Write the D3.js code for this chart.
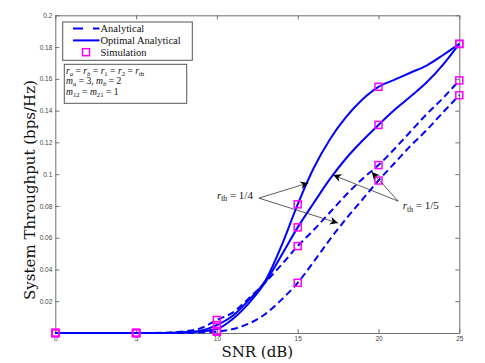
<!DOCTYPE html>
<html>
<head>
<meta charset="utf-8">
<script src="https://cdn.jsdelivr.net/npm/d3@7"></script>
<style>
  html, body { margin: 0; padding: 0; background: #fff; }
</style>
</head>
<body>
<div id="chart"></div>
<script>
// SNR grid (dB)
const snr = d3.range(0, 26);

// curves
const optTh4 = [0, 0, 0, 0, 0, 0, 0, 0, 0.0005, 0.0015, 0.005, 0.011, 0.021, 0.033, 0.055, 0.081, 0.104, 0.122, 0.136, 0.147, 0.155, 0.1595, 0.164, 0.1685, 0.175, 0.182];
const optTh5 = [0, 0, 0, 0, 0, 0, 0, 0, 0.0003, 0.001, 0.0025, 0.009, 0.019, 0.032, 0.049, 0.0665, 0.082, 0.097, 0.11, 0.121, 0.131, 0.1405, 0.149, 0.158, 0.169, 0.182];
const anaUpper = [0, 0, 0, 0, 0, 0, 0, 0.0003, 0.001, 0.003, 0.0082, 0.013, 0.022, 0.032, 0.043, 0.0547, 0.065, 0.076, 0.087, 0.097, 0.1057, 0.116, 0.127, 0.138, 0.148, 0.159];
const anaLower = [0, 0, 0, 0, 0, 0, 0, 0, 0, 0.0003, 0.0008, 0.0025, 0.006, 0.012, 0.021, 0.0316, 0.045, 0.059, 0.072, 0.084, 0.096, 0.107, 0.118, 0.128, 0.139, 0.1497];

// simulation points
const simSnr = [0, 5, 10, 15, 20, 25];
const simOptTh4 = [0, 0, 0.005, 0.081, 0.155, 0.182];
const simOptTh5 = [0, 0, 0.0014, 0.0665, 0.131, 0.182];
const simAnaUpper = [0, 0, 0.0082, 0.0547, 0.1057, 0.159];
const simAnaLower = [0, 0, 0.0008, 0.0316, 0.096, 0.1497];

const xTicks = [0, 5, 10, 15, 20, 25];
const yTicks = [0, 0.02, 0.04, 0.06, 0.08, 0.1, 0.12, 0.14, 0.16, 0.18, 0.2];

// annotation arrows (data coords): label origin -> targets
const notes = [
  { label: "1/4", text: [10.0, 0.0845], from: [12.6, 0.0849], to: [[15.66, 0.0945], [17.49, 0.0692]] },
  { label: "1/5", text: [21.5, 0.0778], from: [21.22, 0.083], to: [[17.2, 0.0994], [19.58, 0.1014]] }
];

const width = 485, height = 363;
const m = { left: 55.3, right: 485 - 459.3, top: 15.3, bottom: 363 - 333 };
const axisColor = "#707070";
const serif = "'Liberation Serif', serif";

const svg = d3.select("#chart").append("svg")
  .attr("width", width)
  .attr("height", height)
  .style("font-family", serif);

const x = d3.scaleLinear().domain([0, 25]).range([m.left, width - m.right]);
const y = d3.scaleLinear().domain([0, 0.2]).range([height - m.bottom, m.top]);

const fmt = d => d === 0 ? "0" : String(+d.toFixed(2));

function styleAxis(g) {
  g.select(".domain").attr("stroke", axisColor);
  g.selectAll(".tick line").attr("stroke", axisColor);
  g.selectAll(".tick text").attr("fill", "#444").style("font-family", "'Liberation Sans', Arial, sans-serif").style("font-size", "6.5px");
}

svg.append("g")
  .attr("transform", `translate(0,${height - m.bottom})`)
  .call(d3.axisBottom(x).tickValues(xTicks).tickSize(-4).tickPadding(3).tickSizeOuter(0).tickFormat(fmt))
  .call(styleAxis);

svg.append("g")
  .attr("transform", `translate(${m.left},0)`)
  .call(d3.axisLeft(y).tickValues(yTicks).tickSize(-4).tickPadding(3).tickSizeOuter(0).tickFormat(d => d === 0 ? "" : fmt(d)))
  .call(styleAxis);

svg.append("g")
  .attr("transform", `translate(0,${m.top})`)
  .call(d3.axisTop(x).tickValues(xTicks).tickSize(-4).tickSizeOuter(0).tickFormat(""))
  .call(styleAxis);

svg.append("g")
  .attr("transform", `translate(${width - m.right},0)`)
  .call(d3.axisRight(y).tickValues(yTicks).tickSize(-4).tickSizeOuter(0).tickFormat(""))
  .call(styleAxis);

// curves
const line = d3.line()
  .x((d, i) => x(snr[i]))
  .y(d => y(d))
  .curve(d3.curveMonotoneX);

const curves = [
  { v: anaUpper, dash: "7,4" },
  { v: anaLower, dash: "7,4" },
  { v: optTh5, dash: null },
  { v: optTh4, dash: null }
];

svg.append("g").selectAll("path")
  .data(curves)
  .join("path")
  .attr("d", d => line(d.v))
  .attr("fill", "none")
  .attr("stroke", "#0000ff")
  .attr("stroke-width", 2)
  .attr("stroke-dasharray", d => d.dash);

// simulation markers
const sims = [simOptTh4, simOptTh5, simAnaUpper, simAnaLower];
const ms = 7;
svg.append("g").selectAll("g")
  .data(sims)
  .join("g")
  .selectAll("rect")
  .data(d => d.map((v, i) => [simSnr[i], v]))
  .join("rect")
  .attr("x", d => x(d[0]) - ms / 2)
  .attr("y", d => y(d[1]) - ms / 2)
  .attr("width", ms)
  .attr("height", ms)
  .attr("fill", "none")
  .attr("stroke", "#ff00ff")
  .attr("stroke-width", 1.5);

// math text helper: segments [text, italic, sub]
function mathText(sel, px, py, segs, size) {
  const t = sel.append("text")
    .attr("x", px).attr("y", py)
    .style("font-size", size + "px")
    .attr("fill", "#111");
  const drop = size * 0.2;
  let low = false;
  segs.forEach(([s, it, sub]) => {
    const ts = t.append("tspan").text(s);
    if (it) ts.style("font-style", "italic");
    if (sub) {
      ts.style("font-size", (size * 0.7) + "px");
      if (!low) ts.attr("dy", drop);
      low = true;
    } else if (low) {
      ts.attr("dy", -drop);
      low = false;
    }
  });
  return t;
}

// arrowhead
svg.append("defs").append("marker")
  .attr("id", "arr")
  .attr("viewBox", "0 0 10 10")
  .attr("refX", 10).attr("refY", 5)
  .attr("markerWidth", 10).attr("markerHeight", 8)
  .attr("markerUnits", "userSpaceOnUse")
  .attr("orient", "auto")
  .append("path")
  .attr("d", "M0,0 L10,5 L0,10 L3,5 Z")
  .attr("fill", "#000");

notes.forEach(n => {
  n.to.forEach(t => {
    svg.append("line")
      .attr("x1", x(n.from[0])).attr("y1", y(n.from[1]))
      .attr("x2", x(t[0])).attr("y2", y(t[1]))
      .attr("stroke", "#333")
      .attr("stroke-width", 0.8)
      .attr("marker-end", "url(#arr)");
  });
  mathText(svg, x(n.text[0]), y(n.text[1]),
    [["r", true], ["th", false, true], [" = " + n.label, false]], 11);
});

// legend
const lg = svg.append("g");
lg.append("rect")
  .attr("x", 62.7).attr("y", 22).attr("width", 129.6).attr("height", 38.3)
  .attr("fill", "#fff").attr("stroke", "#555").attr("stroke-width", 1);
const legendItems = [
  { name: "Analytical", kind: "dash" },
  { name: "Optimal Analytical", kind: "solid" },
  { name: "Simulation", kind: "marker" }
];
legendItems.forEach((d, i) => {
  const cy = 28.6 + i * 11.8;
  if (d.kind === "marker") {
    lg.append("rect").attr("x", 86 - 3.5).attr("y", cy - 3.5).attr("width", 7).attr("height", 7)
      .attr("fill", "none").attr("stroke", "#ff00ff").attr("stroke-width", 1.5);
  } else {
    lg.append("line").attr("x1", 73).attr("x2", 99.5).attr("y1", cy).attr("y2", cy)
      .attr("stroke", "#0000ff").attr("stroke-width", 2)
      .attr("stroke-dasharray", d.kind === "dash" ? "10,10" : null);
  }
  lg.append("text").attr("x", 100.5).attr("y", cy + 3.5)
    .style("font-size", "10.5px").attr("fill", "#111").text(d.name);
});

// parameter box
const pb = svg.append("g");
pb.append("rect")
  .attr("x", 64.3).attr("y", 64.3).attr("width", 122.4).attr("height", 39)
  .attr("fill", "#fff").attr("stroke", "#555").attr("stroke-width", 1);
mathText(pb, 66, 73.6, [["r", true], ["a", true, true], [" = ", false], ["r", true], ["b", true, true], [" = ", false],
  ["r", true], ["1", false, true], [" = ", false], ["r", true], ["2", false, true], [" = ", false], ["r", true], ["th", false, true]], 9.6);
mathText(pb, 66, 84.2, [["m", true], ["a", true, true], [" = 3, ", false], ["m", true], ["b", true, true], [" = 2", false]], 9.6);
mathText(pb, 66, 94.8, [["m", true], ["12", false, true], [" = ", false], ["m", true], ["21", false, true], [" = 1", false]], 9.6);

// axis labels
svg.append("text")
  .attr("x", (m.left + width - m.right) / 2)
  .attr("y", 357)
  .attr("text-anchor", "middle")
  .style("font-family", "'DejaVu Serif', serif")
  .style("font-size", "15px")
  .attr("fill", "#111")
  .text("SNR (dB)");

svg.append("text")
  .attr("transform", "translate(35,190) rotate(-90)")
  .attr("text-anchor", "middle")
  .style("font-family", "'DejaVu Serif', serif")
  .style("font-size", "15px")
  .attr("fill", "#111")
  .text("System Throughput (bps/Hz)");
</script>
</body>
</html>
